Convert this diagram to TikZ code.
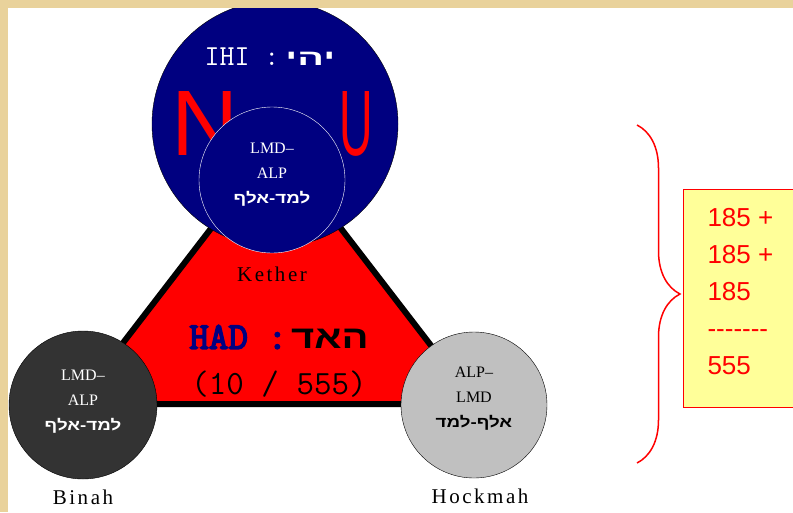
\documentclass[tikz,border=0pt]{standalone}
\usepackage{fontspec}
\setmainfont{Liberation Serif}
\newfontfamily\labelfont[LetterSpace=12]{Liberation Serif}
\newfontfamily\arialfont{Liberation Sans}
\newfontfamily\courbold[FakeBold=4]{Latin Modern Mono}
\newfontfamily\hebfont[Script=Hebrew,FakeStretch=1.25]{Liberation Sans}
\newfontfamily\hebwide[Script=Hebrew,FakeStretch=1.8]{Liberation Sans}
\TeXXeTstate=1
\usepackage{tikz}
\usetikzlibrary{arrows}
\usetikzlibrary{positioning}
\usetikzlibrary{decorations.pathreplacing}
\definecolor{parch}{RGB}{233,210,155}
\definecolor{navyblue}{RGB}{0,0,128}
\definecolor{binahgray}{RGB}{51,51,51}
\definecolor{hockgray}{RGB}{192,192,192}
\definecolor{boxyellow}{RGB}{255,255,153}

\begin{document}
\begin{tikzpicture}[x=1pt,y=-1pt,
  sefira/.style={circle,draw=black,inner sep=0pt,minimum size=146pt},
  inner text/.style={align=center,font=\fontsize{16}{25}\selectfont},
  name text/.style={font=\labelfont\fontsize{21}{22}\selectfont},
  big letter/.style={text=red,inner sep=0pt,font=\arialfont\fontsize{93}{93}\selectfont}]

  \useasboundingbox (0,0) rectangle (793,512);
  \fill[parch] (0,0) rectangle (793,512);
  \fill[white] (8,8) rectangle (793,512);

  \filldraw[fill=red,draw=black,line width=6pt] (76,404) -- (276,144) -- (476,404) -- cycle;
  \begin{scope}
    \clip (8,8) rectangle (793,512);
    \node[sefira,fill=navyblue,minimum size=246pt] (t) at (275,124) {};
  \end{scope}
  \node[big letter] (n) at (205,124) {N};
  \node[big letter,xscale=0.5] (u) at (356,124) {U};

  \node[sefira,fill=navyblue,draw=white] (k) at (272,180) {};
  \node[sefira,fill=binahgray,minimum size=148pt] (b) at (83,405) {};
  \node[sefira,fill=hockgray] (h) at (474,405) {};

  \node[text=white,font=\ttfamily\fontsize{29}{29}\selectfont] (ta) at (270,57)
    {IHI :\kern6pt{\hebwide\bfseries\fontsize{22}{22}\selectfont\beginR יהי\endR}};
  \node[inner text,text=white] (ka) at ([yshift=5pt]k) {LMD–\\ALP\\{\hebfont\bfseries\fontsize{15}{15}\selectfont\beginR למד-אלף\endR}};
  \node[inner text,text=white] (ba) at ([yshift=3pt]b) {LMD–\\ALP\\{\hebfont\bfseries\fontsize{15}{15}\selectfont\beginR למד-אלף\endR}};
  \node[inner text,text=black] (ha) at ([yshift=6pt]h) {ALP–\\LMD\\{\hebfont\bfseries\fontsize{15}{15}\selectfont\beginR אלף-למד\endR}};

  \node[name text] (kn) [below=10pt of k] {Kether};
  \node[name text] (bn) [below=7pt of b] {Binah};
  \node[name text] (hn) [below=7pt of h,xshift=6pt] {Hockmah};

  \node[font=\courbold\fontsize{38}{38}\selectfont,text=navyblue] (had) at (279,337)
    {HAD :\kern4pt{\hebfont\bfseries\fontsize{32}{32}\selectfont\color{black}\beginR האד\endR}};
  \node[font=\ttfamily\fontsize{34}{34}\selectfont] (num) at (279,384) {(10 / 555)};

  \node[draw=red,fill=boxyellow,line width=1.2pt,anchor=north west,
    minimum width=130pt,minimum height=218pt,inner sep=0pt] (s) at (683,189) {};
  \node[anchor=north west,align=left,text=red,font=\arialfont\fontsize{26}{37}\selectfont]
    (st) at (704,205) {185 +\\185 +\\185\\-------\\555};

  \coordinate (bt) at (637,125);
  \coordinate (bb) at (637,463);
  \draw[red,line width=1.5pt,decorate,decoration={brace,amplitude=43pt}] (bt) -- (bb);
\end{tikzpicture}
\end{document}
